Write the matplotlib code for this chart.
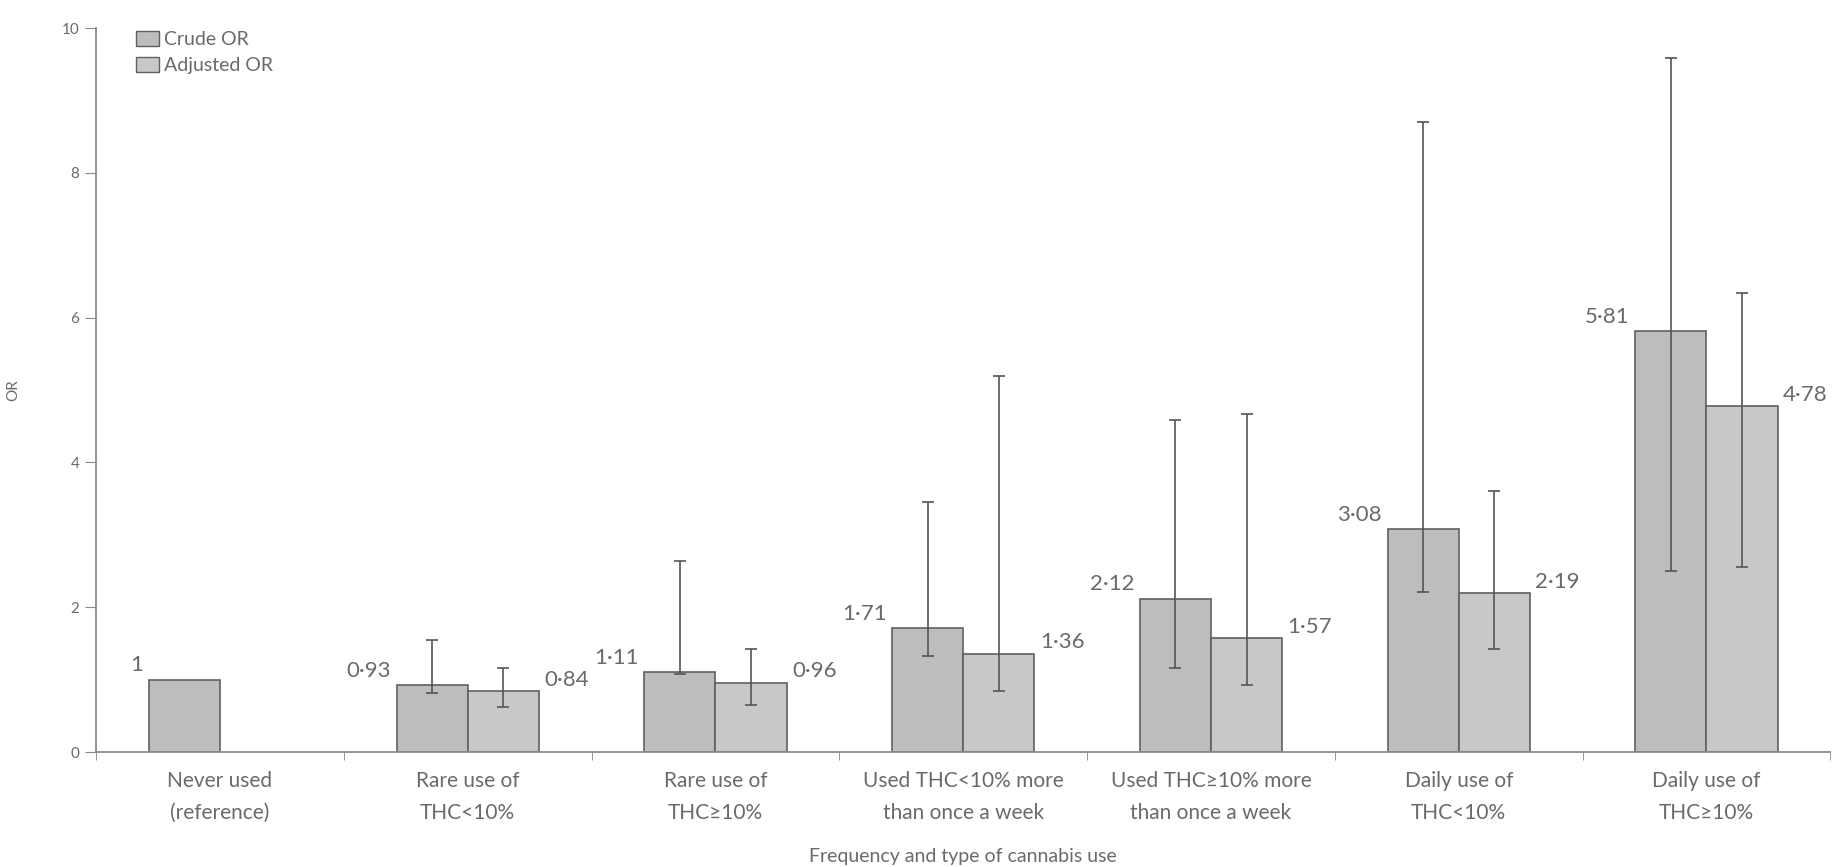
import numpy as np
import matplotlib
matplotlib.use("Agg")
import matplotlib.pyplot as plt
from matplotlib.patches import Patch
from matplotlib.ticker import FixedLocator

plt.rcParams["font.family"] = ["Lato", "DejaVu Sans"]

categories = [
    "Never used\n(reference)",
    "Rare use of\nTHC<10%",
    "Rare use of\nTHC\u226510%",
    "Used THC<10% more\nthan once a week",
    "Used THC\u226510% more\nthan once a week",
    "Daily use of\nTHC<10%",
    "Daily use of\nTHC\u226510%",
]
crude_or = [1.00, 0.93, 1.11, 1.71, 2.12, 3.08, 5.81]
crude_lo = [np.nan, 0.81, 1.08, 1.32, 1.16, 2.21, 2.50]
crude_hi = [np.nan, 1.55, 2.64, 3.45, 4.59, 8.70, 9.59]
adj_or = [np.nan, 0.84, 0.96, 1.36, 1.57, 2.19, 4.78]
adj_lo = [np.nan, 0.62, 0.65, 0.85, 0.92, 1.42, 2.56]
adj_hi = [np.nan, 1.16, 1.42, 5.20, 4.67, 3.61, 6.34]

TXT = "#6a6a6a"
EDGE = "#606060"
CRUDE_C = "#bdbdbd"
ADJ_C = "#c8c8c8"
WIDTH = 0.287


def fmt(v):
    # Lancet-style decimal point
    return "1" if v == 1 else f"{v:.2f}".replace(".", "\u00b7")


fig = plt.figure(figsize=(18.47, 8.67), dpi=100)
ax = fig.add_axes([0.052, 0.1326, 0.939, 0.835])

x = np.arange(len(categories))
crude = np.array(crude_or)
adj = np.array(adj_or)

ax.bar(x, crude, width=-WIDTH, align="edge", color=CRUDE_C,
       edgecolor=EDGE, linewidth=1.2, zorder=2)
ax.bar(x, adj, width=WIDTH, align="edge", color=ADJ_C,
       edgecolor=EDGE, linewidth=1.2, zorder=2)

# confidence intervals, drawn on top of the bars
for xs, val, lo, hi in [(x - WIDTH / 2, crude, crude_lo, crude_hi),
                        (x + WIDTH / 2, adj, adj_lo, adj_hi)]:
    lo = np.array(lo)
    hi = np.array(hi)
    ok = ~np.isnan(lo)
    ax.errorbar(xs[ok], val[ok], yerr=[val[ok] - lo[ok], hi[ok] - val[ok]],
                fmt="none", ecolor="#555555", elinewidth=1.2, capsize=4,
                capthick=1.2, zorder=3)

for i in x:
    ax.annotate(fmt(crude[i]), (i - WIDTH, crude[i]), xytext=(-4, 3),
                textcoords="offset points", ha="right", va="bottom",
                fontsize=16, color=TXT)
    if not np.isnan(adj[i]):
        ax.annotate(fmt(adj[i]), (i + WIDTH, adj[i]), xytext=(4, 1),
                    textcoords="offset points", ha="left", va="bottom",
                    fontsize=16, color=TXT)

ax.set_xlim(-0.5, len(categories) - 0.5)
ax.set_ylim(0, 10)
ax.set_yticks([0, 2, 4, 6, 8, 10])
ax.set_xticks(x)
ax.set_xticklabels(categories, fontsize=15, color=TXT, linespacing=1.7)
ax.xaxis.set_minor_locator(FixedLocator(np.arange(-0.5, len(categories), 1)))
ax.tick_params(axis="x", which="major", length=0, pad=14)
ax.tick_params(axis="x", which="minor", length=6, color="#888888")
ax.tick_params(axis="y", length=8, color="#888888", labelsize=11,
               labelcolor=TXT, pad=4)

for side in ["top", "right"]:
    ax.spines[side].set_visible(False)
for side in ["left", "bottom"]:
    ax.spines[side].set_color("#8a8a8a")
    ax.spines[side].set_linewidth(1.3)

ax.set_ylabel("OR", fontsize=11, color=TXT, labelpad=30)
ax.set_xlabel("Frequency and type of cannabis use", fontsize=14, color=TXT,
              labelpad=18)

handles = [Patch(facecolor=CRUDE_C, edgecolor=EDGE, label="Crude OR"),
           Patch(facecolor=ADJ_C, edgecolor=EDGE, label="Adjusted OR")]
ax.legend(handles=handles, loc="upper left", bbox_to_anchor=(0.013, 1.02),
          frameon=False, fontsize=14, handlelength=1.2, handleheight=0.8,
          handletextpad=0.25, labelspacing=0.45, labelcolor=TXT)

fig.savefig("out.png", dpi=100)
